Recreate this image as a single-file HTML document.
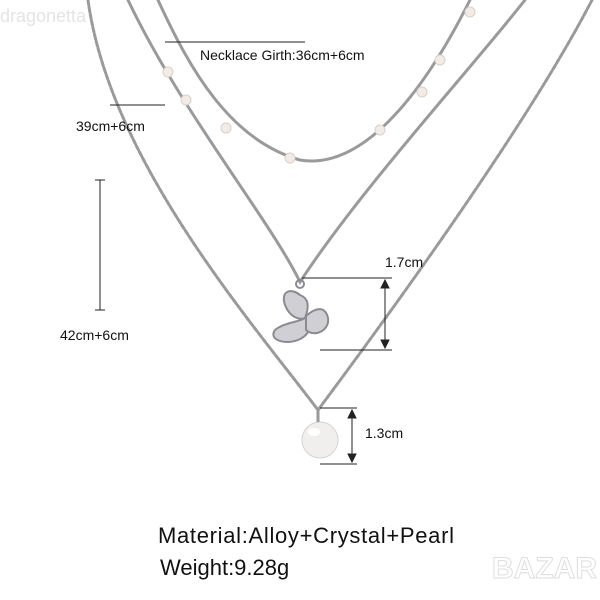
<!DOCTYPE html>
<html><head><style>
body{margin:0;background:#fff;}
svg{display:block}
text{font-family:"Liberation Sans",sans-serif;fill:#111}
</style></head><body>
<svg width="600" height="600" viewBox="0 0 600 600">
<g fill="none" stroke="#9a9a9a" stroke-width="3" stroke-linecap="round">
<path d="M158 0 C190 70 230 140 300 160 C360 170 420 100 470 0"/>
<path d="M128 0 C180 110 270 220 300 282 C360 190 470 70 525 0"/>
<path d="M88 0 C110 160 250 320 318 410 C400 300 530 120 592 0" stroke-dasharray="5 2"/>
</g>
<g fill="#f3ece6" stroke="#d8d0c8" stroke-width="1">
<circle cx="168" cy="72" r="5"/><circle cx="186" cy="100" r="5"/><circle cx="226" cy="128" r="5"/>
<circle cx="290" cy="158" r="5"/><circle cx="380" cy="130" r="5"/><circle cx="422" cy="92" r="5"/>
<circle cx="440" cy="60" r="5"/><circle cx="470" cy="12" r="5"/>
</g>
<!-- butterfly -->
<g fill="#cfcfd4" stroke="#8a8a90" stroke-width="2">
<circle cx="300" cy="284" r="4" fill="none"/>
<path d="M300 295 C292 288 280 290 285 305 C290 318 300 320 305 318 C310 305 308 298 300 295 Z"/>
<path d="M305 318 C300 322 285 322 275 330 C268 340 285 345 298 340 C308 336 315 325 305 318 Z"/>
<path d="M306 316 C315 308 325 305 328 318 C330 330 315 338 306 330 Z"/>
</g>
<circle cx="320" cy="440" r="18" fill="#f1efed" stroke="#d6d2ce"/>
<ellipse cx="314" cy="432" rx="6" ry="4" fill="#fff"/>
<line x1="318" y1="410" x2="318" y2="422" stroke="#999" stroke-width="3"/>
<g stroke="#222" stroke-width="1" fill="#222">
<line x1="165" y1="42" x2="305" y2="42"/>
<line x1="110" y1="105" x2="165" y2="105"/>
<line x1="100" y1="180" x2="100" y2="310"/>
<line x1="95" y1="180" x2="105" y2="180"/><line x1="95" y1="310" x2="105" y2="310"/>
<line x1="302" y1="278" x2="392" y2="278"/><line x1="320" y1="350" x2="392" y2="350"/>
<line x1="385" y1="282" x2="385" y2="346"/>
<path d="M381 288 L385 280 L389 288 Z M381 340 L385 348 L389 340 Z"/>
<line x1="320" y1="408" x2="357" y2="408"/><line x1="320" y1="464" x2="357" y2="464"/>
<line x1="352" y1="412" x2="352" y2="460"/>
<path d="M348 418 L352 410 L356 418 Z M348 454 L352 462 L356 454 Z"/>
</g>
<text x="200" y="60" font-size="14">Necklace Girth:36cm+6cm</text>
<text x="76" y="131" font-size="14">39cm+6cm</text>
<text x="385" y="267" font-size="14">1.7cm</text>
<text x="60" y="340" font-size="14">42cm+6cm</text>
<text x="365" y="438" font-size="14">1.3cm</text>
<text x="158" y="543" font-size="22" textLength="296">Material:Alloy+Crystal+Pearl</text>
<text x="160" y="575" font-size="22">Weight:9.28g</text>
<text x="0" y="22" font-size="18" style="fill:#e4e4e4">dragonetta</text>
<text x="492" y="578" font-size="30" font-weight="bold" style="fill:#fff;stroke:#ddd;stroke-width:1">BAZAR</text>
</svg>
</body></html>
